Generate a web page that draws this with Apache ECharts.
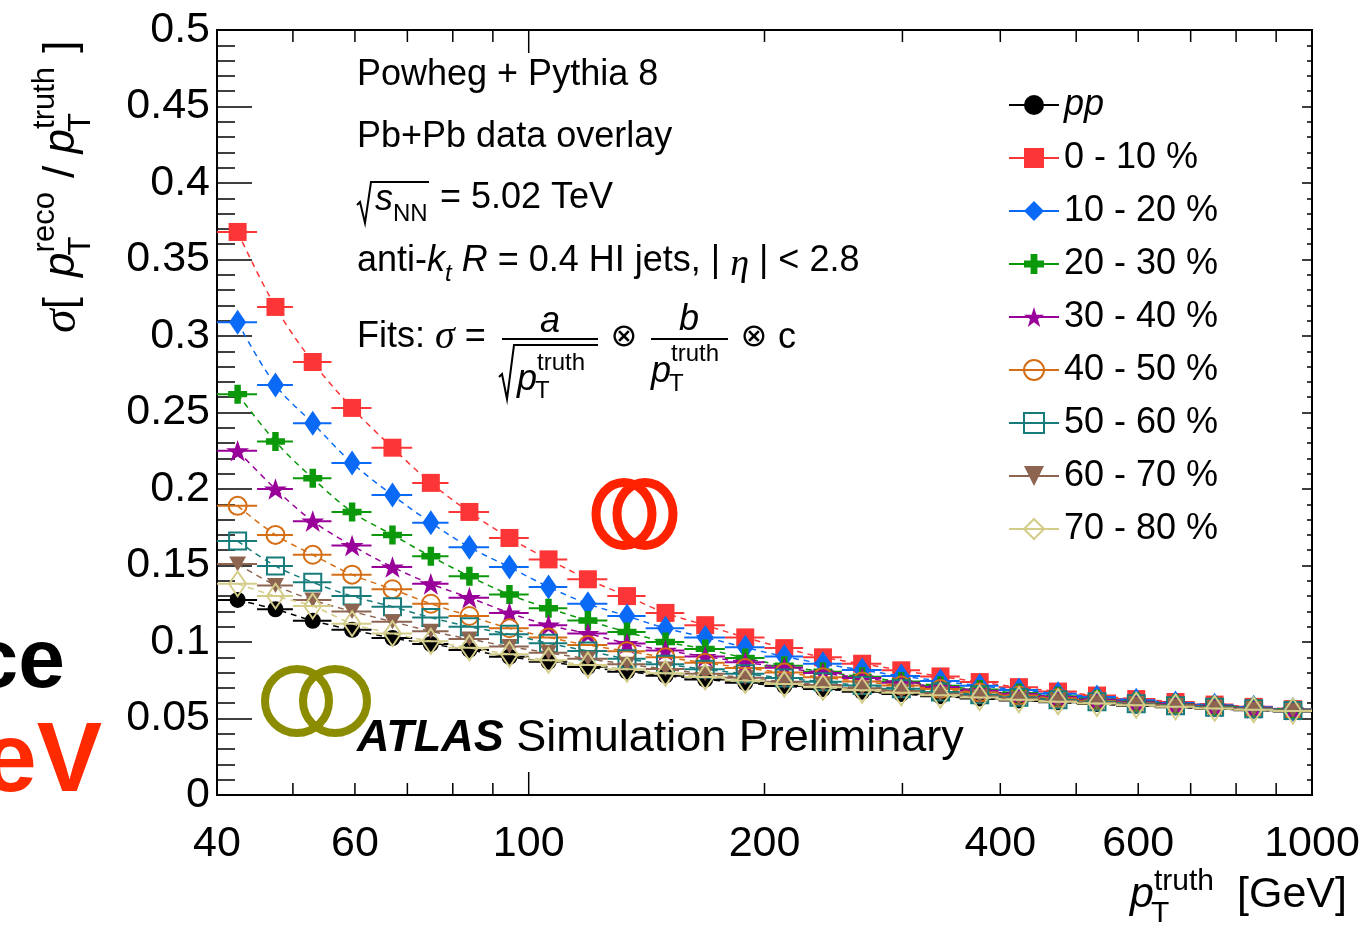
<!DOCTYPE html>
<html>
<head>
<meta charset="utf-8">
<script src="https://cdn.jsdelivr.net/npm/echarts@6/dist/echarts.min.js"></script>
<style>
  html, body { margin: 0; padding: 0; background: #fff; }
  #chart { width: 1367px; height: 943px; }
</style>
</head>
<body>
<div id="chart"></div>
<script>
// Jet pT bins (GeV): 20 log bins per decade from 40 to 1000
const binEdges = [40, 45, 50, 56, 63, 71, 79, 89, 100, 112, 126, 141, 158, 178, 200,
                  224, 251, 282, 316, 355, 398, 447, 501, 562, 631, 708, 794, 891, 1000];
const binCenters = [42.5, 47.5, 53, 59.5, 67, 75, 84, 94.5, 106, 119, 133.5, 149.5, 168, 189,
                    212, 237.5, 266.5, 299, 335.5, 376.5, 422.5, 474, 531.5, 596.5, 669.5, 751, 842.5, 945.5];

// Jet energy resolution per centrality class
const resPP   = [0.1275, 0.1214, 0.1139, 0.1080, 0.1026, 0.0987, 0.0948, 0.0903, 0.0871, 0.0836, 0.0806, 0.0780, 0.0755, 0.0733,
                 0.0712, 0.0692, 0.0675, 0.0660, 0.0645, 0.0631, 0.0618, 0.0606, 0.0594, 0.0583, 0.0573, 0.0563, 0.0554, 0.0546];
const res0_10 = [0.368, 0.319, 0.283, 0.253, 0.227, 0.204, 0.185, 0.168, 0.154, 0.141, 0.130, 0.119, 0.111, 0.103,
                 0.096, 0.090, 0.0858, 0.0815, 0.0775, 0.0738, 0.0705, 0.0676, 0.0650, 0.0627, 0.0608, 0.0591, 0.0576, 0.0561];
const res10_20 = [0.309, 0.268, 0.243, 0.217, 0.196, 0.178, 0.162, 0.149, 0.136, 0.125, 0.117, 0.109, 0.103, 0.0965,
                  0.0905, 0.0858, 0.0817, 0.0778, 0.0745, 0.0714, 0.0687, 0.0662, 0.0640, 0.0620, 0.0602, 0.0587, 0.0573, 0.0559];
const res20_30 = [0.262, 0.231, 0.207, 0.185, 0.170, 0.156, 0.143, 0.131, 0.122, 0.114, 0.1065, 0.100, 0.0955, 0.0895,
                  0.0845, 0.0806, 0.0773, 0.0742, 0.0714, 0.0689, 0.0666, 0.0645, 0.0626, 0.0609, 0.0594, 0.0581, 0.0569, 0.0557];
const res30_40 = [0.225, 0.200, 0.179, 0.163, 0.149, 0.138, 0.129, 0.119, 0.111, 0.1055, 0.099, 0.0945, 0.0905, 0.0867,
                  0.0831, 0.0797, 0.0765, 0.0734, 0.0706, 0.0682, 0.0660, 0.0640, 0.0622, 0.0606, 0.0592, 0.0579, 0.0567, 0.0556];
const res40_50 = [0.189, 0.170, 0.157, 0.144, 0.1345, 0.125, 0.117, 0.109, 0.103, 0.098, 0.094, 0.090, 0.0865, 0.083,
                  0.080, 0.0770, 0.0742, 0.0716, 0.0692, 0.0670, 0.0650, 0.0632, 0.0615, 0.0600, 0.0587, 0.0575, 0.0564, 0.0554];
const res50_60 = [0.166, 0.1497, 0.139, 0.130, 0.123, 0.116, 0.110, 0.105, 0.0992, 0.0941, 0.0890, 0.0855, 0.0822, 0.0792,
                  0.0765, 0.0740, 0.0716, 0.0694, 0.0674, 0.0656, 0.0639, 0.0623, 0.0609, 0.0596, 0.0584, 0.0573, 0.0563, 0.0553];
const res60_70 = [0.151, 0.137, 0.1275, 0.120, 0.1133, 0.107, 0.102, 0.097, 0.093, 0.089, 0.0855, 0.0823, 0.0793, 0.0766,
                  0.0741, 0.0719, 0.0698, 0.0679, 0.0661, 0.0645, 0.0630, 0.0616, 0.0603, 0.0591, 0.0580, 0.0569, 0.0559, 0.0550];
const res70_80 = [0.138, 0.130, 0.1235, 0.112, 0.1055, 0.1005, 0.0962, 0.092, 0.088, 0.0850, 0.0822, 0.0796, 0.0772, 0.0748,
                  0.0725, 0.0704, 0.0685, 0.0668, 0.0652, 0.0637, 0.0623, 0.0610, 0.0598, 0.0587, 0.0576, 0.0566, 0.0557, 0.0549];

// Axis ticks and labels
const xMajorTicks = [100, 1000];
const xMinorTicks = [50, 60, 70, 80, 90, 200, 300, 400, 500, 600, 700, 800, 900];
const xTickLabels = [40, 60, 100, 200, 400, 600, 1000];

const SANS = 'Liberation Sans';
const SERIF = 'Liberation Serif';

const STAR = 'path://M50,0 L61.8,35.1 L98.9,35.1 L69.1,56.7 L80.3,91.9 L50,70.2 L19.7,91.9 L30.9,56.7 L1.1,35.1 L38.2,35.1 Z';
const PLUS = 'path://M33,0 H67 V33 H100 V67 H67 V100 H33 V67 H0 V33 H33 Z';

const groups = [
  { name: 'pp',        data: resPP,    color: '#000000', symbol: 'circle',   size: 16, filled: true },
  { name: '0 - 10 %',  data: res0_10,  color: '#fc3636', symbol: 'rect',     size: 18, filled: true },
  { name: '10 - 20 %', data: res10_20, color: '#0a6af5', symbol: 'diamond',  size: [17, 25], filled: true },
  { name: '20 - 30 %', data: res20_30, color: '#0b990b', symbol: PLUS,       size: 19, filled: true },
  { name: '30 - 40 %', data: res30_40, color: '#990099', symbol: STAR,       size: 23, filled: true },
  { name: '40 - 50 %', data: res40_50, color: '#d56e14', symbol: 'circle',   size: 18, filled: false },
  { name: '50 - 60 %', data: res50_60, color: '#177b7b', symbol: 'rect',     size: 17, filled: false },
  { name: '60 - 70 %', data: res60_70, color: '#8c6450', symbol: 'triangle', size: [17, 15], filled: true, rotate: 180 },
  { name: '70 - 80 %', data: res70_80, color: '#d4cd8a', symbol: 'diamond',  size: [17, 25], filled: false }
];

const series = [];

groups.forEach((g, k) => {
  const z = 10 + k * 3;
  // horizontal bars spanning each pT bin
  series.push({
    type: 'custom',
    name: g.name + ' bins',
    silent: true,
    z: z,
    clip: false,
    data: g.data.map((v, i) => [binEdges[i], binEdges[i + 1], v]),
    encode: { x: [0, 1], y: 2 },
    renderItem: (params, api) => {
      const a = api.coord([api.value(0), api.value(2)]);
      const b = api.coord([api.value(1), api.value(2)]);
      return {
        type: 'line',
        shape: { x1: a[0], y1: a[1], x2: b[0], y2: b[1] },
        style: { stroke: g.color, lineWidth: 2 }
      };
    }
  });
  // markers with dashed resolution curve
  series.push({
    type: 'line',
    name: g.name,
    z: z + 1,
    smooth: 0.35,
    data: g.data.map((v, i) => [binCenters[i], v]),
    symbol: g.symbol,
    symbolSize: g.size,
    symbolRotate: g.rotate || 0,
    symbolKeepAspect: true,
    showAllSymbol: true,
    itemStyle: g.filled
      ? { color: g.color, borderWidth: 0 }
      : { color: 'rgba(255,255,255,0)', borderColor: g.color, borderWidth: 2 },
    lineStyle: { color: g.color, width: 1.5, type: [6, 5] },
    emphasis: { disabled: true },
    animation: false
  });
});

// x-axis ticks (bottom and top edges of the frame)
series.push({
  type: 'custom',
  name: 'xticks',
  silent: true,
  clip: false,
  z: 50,
  data: xMajorTicks.map(v => [v, 0.25, 1]).concat(xMinorTicks.map(v => [v, 0.25, 0])),
  encode: { x: 0, y: 1 },
  renderItem: (params, api) => {
    const v = api.value(0);
    const len = api.value(2) ? 23 : 12;
    const b = api.coord([v, 0]);
    const t = api.coord([v, 0.5]);
    return {
      type: 'group',
      children: [
        { type: 'line', shape: { x1: b[0], y1: b[1], x2: b[0], y2: b[1] - len }, style: { stroke: '#000', lineWidth: 1.5 } },
        { type: 'line', shape: { x1: t[0], y1: t[1], x2: t[0], y2: t[1] + len }, style: { stroke: '#000', lineWidth: 1.5 } }
      ]
    };
  }
});

// x-axis tick labels
series.push({
  type: 'custom',
  name: 'xlabels',
  silent: true,
  clip: false,
  z: 50,
  data: xTickLabels.map(v => [v, 0]),
  encode: { x: 0, y: 1 },
  renderItem: (params, api) => {
    const v = api.value(0);
    const p = api.coord([v, 0]);
    return {
      type: 'text',
      style: {
        text: String(v), x: p[0], y: p[1] + 49,
        font: '43px ' + SANS, fill: '#000',
        align: 'center', verticalAlign: 'middle', textAlign: 'center', textVerticalAlign: 'middle'
      }
    };
  }
});

// ---- annotation text helpers ----
const ctx = document.createElement('canvas').getContext('2d');
function fontOf(p) {
  return (p.style || 'normal') + ' ' + (p.weight || 'normal') + ' ' + p.size + 'px ' + (p.family || SANS);
}
function txt(x, y, text, font, color, align) {
  return {
    type: 'text', silent: true, z: 100,
    style: {
      text: text, x: x, y: y, font: font, fill: color || '#000',
      align: align || 'left', verticalAlign: 'middle',
      textAlign: align || 'left', textVerticalAlign: 'middle'
    }
  };
}
function flow(x, y, parts, out) {
  parts.forEach(p => {
    if (p.gap) { x += p.gap; return; }
    const f = fontOf(p);
    ctx.font = f;
    out.push(txt(x, y + (p.dy || 0), p.t, f, p.color));
    if (!p.stay) x += ctx.measureText(p.t).width;
  });
  return x;
}
function poly(points, width, color) {
  return { type: 'polyline', silent: true, z: 100, shape: { points: points }, style: { stroke: color || '#000', lineWidth: width || 2, fill: null } };
}
function ring(cx, cy, rx, ry, color, w) {
  return { type: 'ellipse', silent: true, z: 5, shape: { cx: cx, cy: cy, rx: rx, ry: ry }, style: { stroke: color, lineWidth: w, fill: null } };
}

const g = [];

// slide decorations around the plot
g.push(txt(65, 664, 'ce', 'bold 84px ' + SANS, '#000', 'right'));
g.push(txt(102, 764, 'eV', 'bold 98px ' + SANS, '#ff2a00', 'right'));
g.push(ring(297, 701, 32, 32, '#8c8c00', 8));
g.push(ring(335, 701, 32, 32, '#8c8c00', 8));
g.push(ring(624, 514, 28, 31.5, '#ff2200', 9));
g.push(ring(645, 514, 28, 31.5, '#ff2200', 9));

// simulation description
flow(357, 75, [{ t: 'Powheg + Pythia 8', size: 36 }], g);
flow(357, 137, [{ t: 'Pb+Pb data overlay', size: 36 }], g);
g.push(poly([[357, 205], [360, 202], [365, 223], [371, 182], [429, 182]], 2));
let xe = flow(375, 200, [{ t: 's', size: 36, style: 'italic' }], g);
flow(xe, 214, [{ t: 'NN', size: 24 }], g);
flow(440, 198, [{ t: '= 5.02 TeV', size: 36 }], g);
flow(357, 261, [
  { t: 'anti-', size: 36 },
  { t: 'k', size: 36, style: 'italic' },
  { t: 't', size: 24, style: 'italic', dy: 13 },
  { t: ' ', size: 36 },
  { t: 'R', size: 36, style: 'italic' },
  { t: ' = 0.4 HI jets, | ', size: 36 },
  { t: 'η', size: 38, style: 'italic', family: SERIF, dy: 4 },
  { t: ' | < 2.8', size: 36 }
], g);

// fit function
flow(357, 337, [
  { t: 'Fits: ', size: 36 },
  { t: 'σ', size: 40, style: 'italic', family: SERIF },
  { t: ' =', size: 36 }
], g);
g.push(txt(550, 322, 'a', 'italic 36px ' + SANS, '#000', 'center'));
g.push(poly([[502, 339], [598, 339]], 2));
g.push(poly([[499, 377], [502, 374], [507, 399], [514, 345], [598, 345]], 2));
xe = flow(517, 380, [{ t: 'p', size: 36, style: 'italic' }], g);
flow(xe - 2, 391, [{ t: 'T', size: 24 }], g);
flow(xe, 363, [{ t: 'truth', size: 24 }], g);
g.push(txt(624, 338, '⊗', '32px DejaVu Sans', '#000', 'center'));
g.push(txt(689, 320, 'b', 'italic 36px ' + SANS, '#000', 'center'));
g.push(poly([[651, 339], [728, 339]], 2));
xe = flow(651, 372, [{ t: 'p', size: 36, style: 'italic' }], g);
flow(xe - 2, 384, [{ t: 'T', size: 24 }], g);
flow(xe, 354, [{ t: 'truth', size: 24 }], g);
g.push(txt(754, 338, '⊗', '32px DejaVu Sans', '#000', 'center'));
flow(778, 338, [{ t: 'c', size: 36 }], g);

// experiment label
flow(357, 739, [
  { t: 'ATLAS', size: 45, style: 'italic', weight: 'bold' },
  { t: ' Simulation Preliminary', size: 45 }
], g);

// x-axis title
xe = flow(1130, 895, [{ t: 'p', size: 43, style: 'italic' }], g);
flow(xe - 3, 914, [{ t: 'T', size: 30 }], g);
flow(xe, 882, [{ t: 'truth', size: 30 }], g);
flow(1237, 895, [{ t: '[GeV]', size: 43 }], g);

// y-axis title (reads bottom to top)
const yt = [];
let lx = flow(0, 0, [
  { t: 'σ', size: 48, style: 'italic', family: SERIF },
  { t: '[ ', size: 44 }
], yt);
lx = flow(lx + 8, 0, [{ t: 'p', size: 44, style: 'italic' }], yt);
flow(lx - 3, 19, [{ t: 'T', size: 31 }], yt);
lx = flow(lx, -17, [{ t: 'reco', size: 31 }], yt);
lx = flow(lx + 2, 0, [{ t: ' / ', size: 44 }], yt);
lx = flow(lx, 0, [{ t: 'p', size: 44, style: 'italic' }], yt);
flow(lx - 3, 19, [{ t: 'T', size: 31 }], yt);
lx = flow(lx, -17, [{ t: 'truth', size: 31 }], yt);
flow(lx + 2, 0, [{ t: ' ]', size: 44 }], yt);
g.push({ type: 'group', x: 62, y: 333, rotation: Math.PI / 2, children: yt, z: 100 });

const chart = echarts.init(document.getElementById('chart'), null, { renderer: 'canvas' });
chart.setOption({
  animation: false,
  backgroundColor: '#ffffff',
  grid: { left: 217, right: 55, top: 30, bottom: 148, show: true, borderColor: '#000', borderWidth: 2, backgroundColor: 'transparent' },
  xAxis: {
    type: 'log', logBase: 10, min: 40, max: 1000,
    axisLine: { show: false }, axisTick: { show: false }, axisLabel: { show: false }, splitLine: { show: false }
  },
  yAxis: [
    {
      type: 'value', min: 0, max: 0.5, interval: 0.05, position: 'left',
      axisLine: { show: false },
      axisTick: { show: true, inside: true, length: 35, lineStyle: { color: '#000', width: 1.5 } },
      minorTick: { show: true, splitNumber: 5, length: 18, lineStyle: { color: '#000', width: 1.5 } },
      axisLabel: { color: '#000', fontSize: 43, fontFamily: SANS, margin: 7 },
      splitLine: { show: false }
    },
    {
      type: 'value', min: 0, max: 0.5, interval: 0.05, position: 'right',
      axisLine: { show: false },
      axisTick: { show: true, inside: true, length: 10, lineStyle: { color: '#000', width: 1.5 } },
      minorTick: { show: true, splitNumber: 5, length: 5, lineStyle: { color: '#000', width: 1.5 } },
      axisLabel: { show: false },
      splitLine: { show: false }
    }
  ],
  legend: {
    data: groups.map(x => x.name),
    orient: 'vertical',
    left: 1003, top: 82,
    itemWidth: 50, itemHeight: 25, itemGap: 17,
    selectedMode: false,
    lineStyle: { type: 'solid', width: 2 },
    textStyle: { fontSize: 36, fontFamily: SANS, color: '#000', rich: { it: { fontSize: 36, fontFamily: SANS, fontStyle: 'italic', color: '#000' } } },
    formatter: n => n === 'pp' ? '{it|pp}' : n
  },
  graphic: { elements: g },
  series: series
});
</script>
</body>
</html>
